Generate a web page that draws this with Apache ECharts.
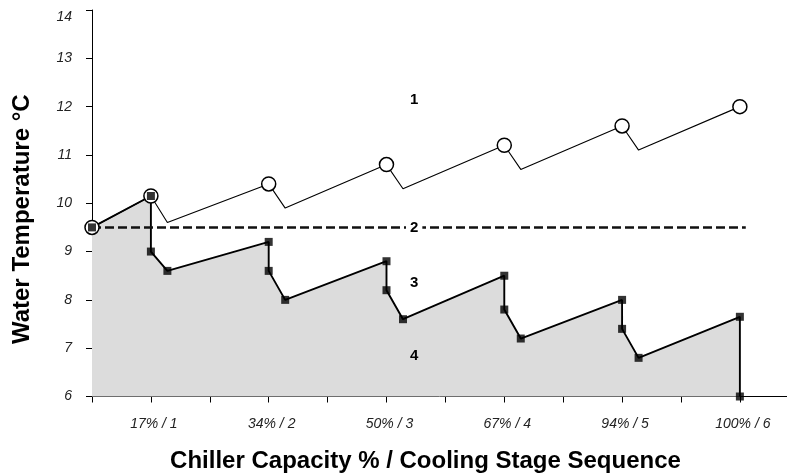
<!DOCTYPE html>
<html>
<head>
<meta charset="utf-8">
<script src="https://cdn.jsdelivr.net/npm/echarts@6/dist/echarts.min.js"></script>
<style>
html,body{margin:0;padding:0;background:#fff;}
#chart{width:787px;height:475px;}
</style>
</head>
<body>
<div id="chart"></div>
<script>
// ---- data ----
const xTickValues = [0, 1, 2, 3, 4, 5, 6, 7, 8, 9, 10, 11];
const xLabelValues = [1, 3, 5, 7, 9, 11];
const xLabelTexts = ['17% / 1', '34% / 2', '50% / 3', '67% / 4', '94% / 5', '100% / 6'];

// curve 1: return water temperature
const returnX = [0, 1, 1.28, 3, 3.28, 5, 5.28, 7, 7.28, 9, 9.28, 11];
const returnY = [9.5, 10.15, 9.6, 10.4, 9.9, 10.8, 10.3, 11.2, 10.7, 11.6, 11.1, 12.0];

// curve 2: design setpoint (dashed)
const setpointX = [0, 11.1];
const setpointY = [9.5, 9.5];

// curve 3 / area 4: supply water temperature
const supplyX = [0, 1, 1, 1.28, 3, 3, 3.28, 5, 5, 5.28, 7, 7, 7.28, 9, 9, 9.28, 11, 11];
const supplyY = [9.5, 10.15, 9.0, 8.6, 9.2, 8.6, 8.0, 8.8, 8.2, 7.6, 8.5, 7.8, 7.2, 8.0, 7.4, 6.8, 7.65, 6.0];

// region annotations
const annoText = ['1', '2', '3', '4'];
const annoX = [5.47, 5.47, 5.47, 5.47];
const annoY = [12.15, 9.5, 8.35, 6.85];

const xTitle = 'Chiller Capacity % / Cooling Stage Sequence';
const yTitle = 'Water Temperature °C';

// ---- build ----
const pairs = (xs, ys) => xs.map((x, i) => [x, ys[i]]);
const FONT = '"Liberation Sans", Arial, sans-serif';

const chart = echarts.init(document.getElementById('chart'), null, {renderer: 'canvas'});

const option = {
  animation: false,
  backgroundColor: '#ffffff',
  grid: {left: 92, right: 0, top: 10, bottom: 78.5, containLabel: false, outerBoundsMode: 'none'},
  xAxis: {
    type: 'value',
    min: 0,
    max: 11.8,
    interval: 1,
    name: xTitle,
    nameLocation: 'middle',
    nameGap: 53,
    nameTextStyle: {fontFamily: FONT, fontSize: 24, fontWeight: 'bold', color: '#000', padding: [0, 28, 0, 0]},
    axisLine: {show: true, lineStyle: {color: '#000', width: 1}},
    axisTick: {show: true, inside: false, length: 6, customValues: xTickValues, lineStyle: {color: '#000'}},
    splitLine: {show: false},
    axisLabel: {
      customValues: xLabelValues,
      margin: 21,
      fontFamily: FONT,
      fontSize: 14,
      fontStyle: 'italic',
      color: '#222',
      formatter: function (v) {
        const i = xLabelValues.indexOf(Math.round(v));
        if (i < 0) return '';
        const cls = (i === 1 || i === 2) ? 'hi' : 'lo';
        return '{' + cls + '|' + xLabelTexts[i] + '}';
      },
      rich: {
        lo: {fontFamily: FONT, fontSize: 14, fontStyle: 'italic', color: '#222', padding: [0, 0, 0, 6]},
        hi: {fontFamily: FONT, fontSize: 14, fontStyle: 'italic', color: '#222', padding: [0, 0, 5, 6]}
      }
    }
  },
  yAxis: {
    type: 'value',
    min: 6,
    max: 14,
    interval: 1,
    name: yTitle,
    nameLocation: 'middle',
    nameGap: 58,
    nameRotate: 90,
    nameTextStyle: {fontFamily: FONT, fontSize: 24, fontWeight: 'bold', color: '#000', padding: [0, 32, 0, 0]},
    axisLine: {show: true, lineStyle: {color: '#000', width: 1}},
    axisTick: {show: true, inside: false, length: 6, lineStyle: {color: '#000'}},
    splitLine: {show: false},
    axisLabel: {
      margin: 20,
      fontFamily: FONT,
      fontSize: 14,
      fontStyle: 'italic',
      color: '#222',
      formatter: function (v) {
        return v === 14 ? '{top|14}' : '{n|' + v + '}';
      },
      rich: {
        top: {fontFamily: FONT, fontSize: 14, fontStyle: 'italic', color: '#222', padding: [14, 0, 0, 0]},
        n: {fontFamily: FONT, fontSize: 14, fontStyle: 'italic', color: '#222'}
      }
    }
  },
  series: [
    {
      name: 'Supply area',
      type: 'line',
      data: pairs(supplyX, supplyY),
      showSymbol: false,
      symbol: 'none',
      lineStyle: {color: '#000', width: 1.9},
      areaStyle: {color: '#dcdcdc', opacity: 1, origin: 'start'},
      z: 1
    },
    {
      name: 'Setpoint',
      type: 'line',
      data: pairs(setpointX, setpointY),
      symbol: 'none',
      lineStyle: {color: '#111', width: 2.5, type: [9, 4]},
      z: 2
    },
    {
      name: 'Return',
      type: 'line',
      data: pairs(returnX, returnY).map(p => ({
        value: p,
        symbol: Number.isInteger(p[0]) ? 'circle' : 'none'
      })),
      symbolSize: 14,
      lineStyle: {color: '#000', width: 1.1},
      itemStyle: {color: '#fff', borderColor: '#000', borderWidth: 1.5},
      z: 3
    },
    {
      name: 'Supply points',
      type: 'scatter',
      data: pairs(supplyX, supplyY),
      symbol: 'rect',
      symbolSize: 8,
      clip: false,
      itemStyle: {color: '#000'},
      z: 4
    },
    {
      name: 'Annotations',
      type: 'scatter',
      data: annoText.map((t, i) => ({
        name: t,
        value: [annoX[i], annoY[i]],
        label: t === '2' ? {backgroundColor: '#fff', padding: [1, 4]} : {}
      })),
      symbolSize: 0,
      itemStyle: {color: '#000', opacity: 1},
      label: {
        show: true,
        position: 'inside',
        formatter: '{b}',
        fontFamily: FONT,
        fontSize: 15,
        fontWeight: 'bold',
        color: '#000',
        textBorderWidth: 0
      },
      emphasis: {disabled: true},
      z: 5
    }
  ]
};

chart.setOption(option);
</script>
</body>
</html>
